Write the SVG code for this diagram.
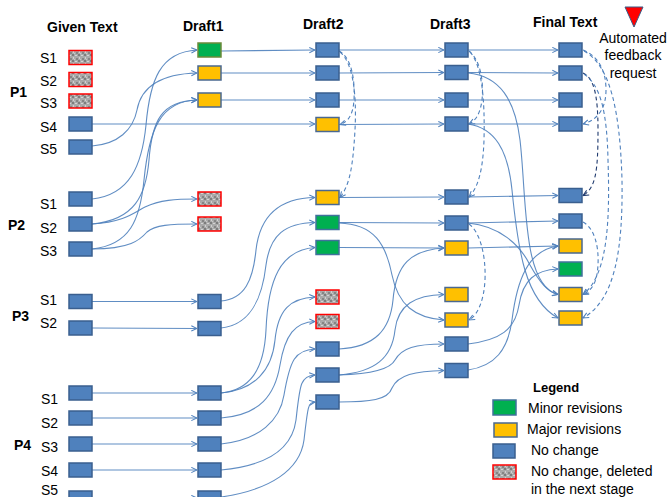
<svg xmlns="http://www.w3.org/2000/svg" width="667" height="497" viewBox="0 0 667 497">
<style>
  text { font-family: "Liberation Sans", Arial, sans-serif; fill: #000; }
  .h { font-size: 14px; font-weight: bold; }
  .s { font-size: 14px; }
  .p { font-size: 14px; font-weight: bold; }
  .lg { font-size: 14px; }
  .b { fill: #4f81bd; stroke: #3a5f8f; stroke-width: 1.5; }
  .y { fill: #ffc000; stroke: #4a6890; stroke-width: 1.5; }
  .g { fill: #00b050; stroke: #41719c; stroke-width: 1.5; }
  .g1 { fill: #00b050; stroke: #6b8a3a; stroke-width: 1.5; }
  .r { fill: url(#noise); stroke: #ff0000; stroke-width: 1.5; }
  .c { fill: none; stroke: #4f81bd; stroke-width: 1.1; stroke-opacity: 0.9; marker-end: url(#ah); }
  .d { fill: none; stroke: #4f81bd; stroke-width: 1.1; stroke-dasharray: 4 3; marker-end: url(#ah); }
  .dd { fill: none; stroke: #1f3a6e; stroke-width: 1.1; stroke-dasharray: 4 3; marker-end: url(#ahd); }
</style>
<defs>
  <pattern id="noise" width="6" height="6" patternUnits="userSpaceOnUse">
    <rect width="6" height="6" fill="#a9a9a9"/>
    <rect x="0" y="0" width="2" height="2" fill="#7d7d7d"/>
    <rect x="3" y="1" width="2" height="1" fill="#d4d4d4"/>
    <rect x="1" y="3" width="1" height="2" fill="#d0d0d0"/>
    <rect x="4" y="4" width="2" height="2" fill="#858585"/>
    <rect x="2" y="5" width="1" height="1" fill="#c8c8c8"/>
  </pattern>
  <marker id="ah" viewBox="0 0 8 8" refX="7.5" refY="4" markerWidth="7" markerHeight="7" markerUnits="userSpaceOnUse" orient="auto">
    <path d="M1,1 L7.5,4 L1,7" fill="none" stroke="#4f81bd" stroke-width="1.2"/>
  </marker>
  <marker id="ahd" viewBox="0 0 8 8" refX="7.5" refY="4" markerWidth="7" markerHeight="7" markerUnits="userSpaceOnUse" orient="auto">
    <path d="M1,1 L7.5,4 L1,7" fill="none" stroke="#1f3a6e" stroke-width="1.2"/>
  </marker>
</defs>
<rect width="667" height="497" fill="#fff"/>

<!-- headings -->
<g id="headings">
  <text class="h" x="47" y="32">Given Text</text>
  <text class="h" x="183" y="31">Draft1</text>
  <text class="h" x="303" y="29">Draft2</text>
  <text class="h" x="430" y="29">Draft3</text>
  <text class="h" x="533" y="27">Final Text</text>
</g>
<g id="feedback-marker">
  <polygon points="625,7 643,7 634,27" fill="#ff0000" stroke="#3b5a86" stroke-width="1"/>
  <text class="lg" x="633" y="43" text-anchor="middle">Automated</text>
  <text class="lg" x="633" y="60" text-anchor="middle">feedback</text>
  <text class="lg" x="633" y="78" text-anchor="middle">request</text>
</g>

<!-- labels -->
<g id="labels">
  <text class="p" x="10" y="97">P1</text>
  <text class="p" x="8" y="230">P2</text>
  <text class="p" x="12" y="321">P3</text>
  <text class="p" x="14" y="450">P4</text>
  <text class="s" x="40" y="63">S1</text>
  <text class="s" x="40" y="86">S2</text>
  <text class="s" x="40" y="108">S3</text>
  <text class="s" x="40" y="132">S4</text>
  <text class="s" x="40" y="154">S5</text>
  <text class="s" x="40" y="209">S1</text>
  <text class="s" x="40" y="233">S2</text>
  <text class="s" x="40" y="256">S3</text>
  <text class="s" x="40" y="305">S1</text>
  <text class="s" x="40" y="328">S2</text>
  <text class="s" x="41" y="404">S1</text>
  <text class="s" x="41" y="428">S2</text>
  <text class="s" x="41" y="452">S3</text>
  <text class="s" x="41" y="476">S4</text>
  <text class="s" x="41" y="495">S5</text>
</g>

<!-- connectors -->
<g id="connectors">
  <!-- Given -> Draft1 -->
  <path class="c" d="M92,146 C118,144 133,130 137,110 C141,88 158,74 197,73"/>
  <path class="c" d="M92,199 C130,195 142,165 146,125 C150,80 160,52 197,50"/>
  <path class="c" d="M92,224 C135,220 146,195 149,160 C152,120 162,101 197,100"/>
  <path class="c" d="M92,249 C130,245 140,220 144,180 C149,130 160,101 197,100"/>
  <path class="c" d="M92,224 C125,222 135,212 145,207 C160,200 175,199 197,199"/>
  <path class="c" d="M92,249 C130,249 140,240 147,232 C155,225 170,224 197,224"/>
  <path class="c" d="M92,124 L315,124"/>
  <path class="c" d="M92,301.5 L197,301.5"/>
  <path class="c" d="M92,328 L197,328.5"/>
  <path class="c" d="M92,393 L197,393"/>
  <path class="c" d="M92,418 L197,418"/>
  <path class="c" d="M92,444 L197,444"/>
  <path class="c" d="M92,470 L197,470"/>
  <path class="c" d="M92,498 L197,498"/>
  <!-- Draft1 -> Draft2 -->
  <path class="c" d="M221,51 L315,50"/>
  <path class="c" d="M221,73 L315,73"/>
  <path class="c" d="M221,100 L315,100"/>
  <path class="c" d="M221,301 C245,299 253,280 256,250 C260,215 280,198 315,197.5"/>
  <path class="c" d="M221,328 C250,325 262,300 266,265 C270,235 285,223 315,222.5"/>
  <path class="c" d="M221,393 C250,390 264,370 266,330 C268,280 280,250 315,247.5"/>
  <path class="c" d="M221,393 C255,390 272,370 275,340 C278,310 290,298 315,297"/>
  <path class="c" d="M221,418 C260,415 275,395 280,365 C285,335 295,322 315,321.5"/>
  <path class="c" d="M221,444 C260,440 280,420 284,395 C290,360 295,350 315,349"/>
  <path class="c" d="M221,470 C265,466 292,450 296,420 C300,385 300,376 315,375"/>
  <path class="c" d="M221,497 C270,490 300,470 304,440 C308,405 308,403 315,402"/>
  <!-- Draft2 -> Draft3 -->
  <path class="c" d="M339,50 L444,50"/>
  <path class="c" d="M339,73 L444,72.5"/>
  <path class="c" d="M339,100 L444,100"/>
  <path class="c" d="M339,124.5 L444,124"/>
  <path class="c" d="M339,197.5 L444,197"/>
  <path class="c" d="M339,222.5 L444,223"/>
  <path class="c" d="M339,247.5 L444,248"/>
  <path class="c" d="M339,223 C375,224 386,245 392,275 C398,305 415,318 444,320"/>
  <path class="c" d="M339,349 C375,347 390,330 393,300 C396,265 410,250 444,248"/>
  <path class="c" d="M339,375 C375,372 392,358 395,330 C398,305 415,295 444,294.5"/>
  <path class="c" d="M339,375 C370,374 390,370 395,360 C402,348 415,344 444,344"/>
  <path class="c" d="M339,402 C370,402 388,400 392,388 C398,375 415,371 444,370.5"/>
  <!-- Draft3 -> Final -->
  <path class="c" d="M468,50 L558,50"/>
  <path class="c" d="M468,72.5 L558,73"/>
  <path class="c" d="M468,100 L558,100"/>
  <path class="c" d="M468,124 L558,124"/>
  <path class="c" d="M468,73 C500,76 515,100 520,140 C527,200 522,285 558,294.5"/>
  <path class="c" d="M468,124 C495,128 508,150 512,190 C518,250 525,300 558,318"/>
  <path class="c" d="M468,197 L558,195.5"/>
  <path class="c" d="M468,223 L558,221"/>
  <path class="c" d="M468,223 C500,226 520,245 530,265 C540,283 548,292 558,294.5"/>
  <path class="c" d="M468,248 L558,246"/>
  <path class="c" d="M468,344 C500,340 515,330 519,305 C523,280 535,270 558,269"/>
  <path class="c" d="M468,370 C495,366 508,350 512,320 C517,280 528,250 558,246"/>
  <!-- feedback (dashed) -->
  <path class="d" d="M339,51 C352,58 355,80 354,100 C353,115 348,122 340,124.5"/>
  <path class="d" d="M340,52 C352,62 357,90 355,130 C353,165 350,185 340,197.5"/>
  <path class="d" d="M469,51 C480,60 484,80 482,100 C480,115 475,121 469,124"/>
  <path class="d" d="M470,52 C482,65 485,100 484,140 C483,170 478,188 469,197"/>
  <path class="d" d="M469,224 C480,232 486,255 485,280 C484,300 478,315 469,320"/>
  <path class="d" d="M583,50 C598,56 606,70 606,90 C606,108 598,120 583,124"/>
  <path class="d" d="M584,51 C610,65 620,110 622,180 C623,250 615,300 583,318"/>
  <path class="dd" d="M583,73 C594,78 598,95 598,130 C598,170 596,188 583,195.5"/>
  <path class="d" d="M584,74 C600,85 607,110 608,160 C610,220 608,275 583,294.5"/>
  <path class="d" d="M583,222 C594,228 599,245 598,265 C597,283 592,290 583,294.5"/>
</g>

<!-- Given Text nodes -->
<g id="given-p1s1"><rect class="r" x="69" y="50.5" width="23" height="14"/></g>
<g id="given-p1s2"><rect class="r" x="69" y="72.5" width="23" height="14"/></g>
<g id="given-p1s3"><rect class="r" x="69" y="94" width="23" height="14"/></g>
<g id="given-p1s4"><rect class="b" x="69" y="117" width="23" height="14"/></g>
<g id="given-p1s5"><rect class="b" x="69" y="140" width="23" height="14"/></g>
<g id="given-p2s1"><rect class="b" x="69" y="192" width="23" height="14"/></g>
<g id="given-p2s2"><rect class="b" x="69" y="217" width="23" height="14"/></g>
<g id="given-p2s3"><rect class="b" x="69" y="242" width="23" height="14"/></g>
<g id="given-p3s1"><rect class="b" x="69" y="294.5" width="23" height="14"/></g>
<g id="given-p3s2"><rect class="b" x="69" y="321" width="23" height="14"/></g>
<g id="given-p4s1"><rect class="b" x="69" y="386" width="23" height="14"/></g>
<g id="given-p4s2"><rect class="b" x="69" y="411" width="23" height="14"/></g>
<g id="given-p4s3"><rect class="b" x="69" y="437" width="23" height="14"/></g>
<g id="given-p4s4"><rect class="b" x="69" y="463" width="23" height="14"/></g>
<g id="given-p4s5"><rect class="b" x="69" y="491" width="23" height="14"/></g>

<!-- Draft1 nodes -->
<g id="d1-1"><rect class="g1" x="198" y="43" width="23" height="14"/></g>
<g id="d1-2"><rect class="y" x="198" y="66" width="23" height="14"/></g>
<g id="d1-3"><rect class="y" x="198" y="93" width="23" height="14"/></g>
<g id="d1-4"><rect class="r" x="198" y="192" width="23" height="14"/></g>
<g id="d1-5"><rect class="r" x="198" y="217" width="23" height="14"/></g>
<g id="d1-6"><rect class="b" x="198" y="294.5" width="23" height="14"/></g>
<g id="d1-7"><rect class="b" x="198" y="321.5" width="23" height="14"/></g>
<g id="d1-8"><rect class="b" x="198" y="386" width="23" height="14"/></g>
<g id="d1-9"><rect class="b" x="198" y="411" width="23" height="14"/></g>
<g id="d1-10"><rect class="b" x="198" y="437" width="23" height="14"/></g>
<g id="d1-11"><rect class="b" x="198" y="463" width="23" height="14"/></g>
<g id="d1-12"><rect class="b" x="198" y="491" width="23" height="14"/></g>

<!-- Draft2 nodes -->
<g id="d2-1"><rect class="b" x="316" y="43" width="23" height="14"/></g>
<g id="d2-2"><rect class="b" x="316" y="66" width="23" height="14"/></g>
<g id="d2-3"><rect class="b" x="316" y="93" width="23" height="14"/></g>
<g id="d2-4"><rect class="y" x="316" y="117.5" width="23" height="14"/></g>
<g id="d2-5"><rect class="y" x="316" y="190.5" width="23" height="14"/></g>
<g id="d2-6"><rect class="g" x="316" y="215.5" width="23" height="14"/></g>
<g id="d2-7"><rect class="g" x="316" y="240.5" width="23" height="14"/></g>
<g id="d2-8"><rect class="r" x="316" y="290" width="23" height="14"/></g>
<g id="d2-9"><rect class="r" x="316" y="314.5" width="23" height="14"/></g>
<g id="d2-10"><rect class="b" x="316" y="342" width="23" height="14"/></g>
<g id="d2-11"><rect class="b" x="316" y="368" width="23" height="14"/></g>
<g id="d2-12"><rect class="b" x="316" y="395" width="23" height="14"/></g>

<!-- Draft3 nodes -->
<g id="d3-1"><rect class="b" x="445" y="43" width="23" height="14"/></g>
<g id="d3-2"><rect class="b" x="445" y="65.5" width="23" height="14"/></g>
<g id="d3-3"><rect class="b" x="445" y="93" width="23" height="14"/></g>
<g id="d3-4"><rect class="b" x="445" y="117" width="23" height="14"/></g>
<g id="d3-5"><rect class="b" x="445" y="190" width="23" height="14"/></g>
<g id="d3-6"><rect class="b" x="445" y="216" width="23" height="14"/></g>
<g id="d3-7"><rect class="y" x="445" y="241" width="23" height="14"/></g>
<g id="d3-8"><rect class="y" x="445" y="287.5" width="23" height="14"/></g>
<g id="d3-9"><rect class="y" x="445" y="313" width="23" height="14"/></g>
<g id="d3-10"><rect class="b" x="445" y="337" width="23" height="14"/></g>
<g id="d3-11"><rect class="b" x="445" y="363.5" width="23" height="14"/></g>

<!-- Final Text nodes -->
<g id="f-1"><rect class="b" x="559" y="43" width="23" height="14"/></g>
<g id="f-2"><rect class="b" x="559" y="66" width="23" height="14"/></g>
<g id="f-3"><rect class="b" x="559" y="93" width="23" height="14"/></g>
<g id="f-4"><rect class="b" x="559" y="117" width="23" height="14"/></g>
<g id="f-5"><rect class="b" x="559" y="188.5" width="23" height="14"/></g>
<g id="f-6"><rect class="b" x="559" y="214" width="23" height="14"/></g>
<g id="f-7"><rect class="y" x="559" y="239" width="23" height="14"/></g>
<g id="f-8"><rect class="g" x="559" y="262" width="23" height="14"/></g>
<g id="f-9"><rect class="y" x="559" y="287.5" width="23" height="14"/></g>
<g id="f-10"><rect class="y" x="559" y="311" width="23" height="14"/></g>

<!-- Legend -->
<g id="legend">
  <text x="533" y="392" font-size="13" font-weight="bold">Legend</text>
  <rect class="g" x="493" y="400" width="23" height="15"/>
  <text class="lg" x="528" y="413">Minor revisions</text>
  <rect class="y" x="494" y="423" width="23" height="14"/>
  <text class="lg" x="527" y="434">Major revisions</text>
  <rect class="b" x="493" y="444" width="22" height="14"/>
  <text class="lg" x="531" y="455">No change</text>
  <rect class="r" x="493" y="465" width="23" height="14"/>
  <text class="lg" x="531" y="476">No change, deleted</text>
  <text class="lg" x="531" y="494">in the next stage</text>
</g>
</svg>
